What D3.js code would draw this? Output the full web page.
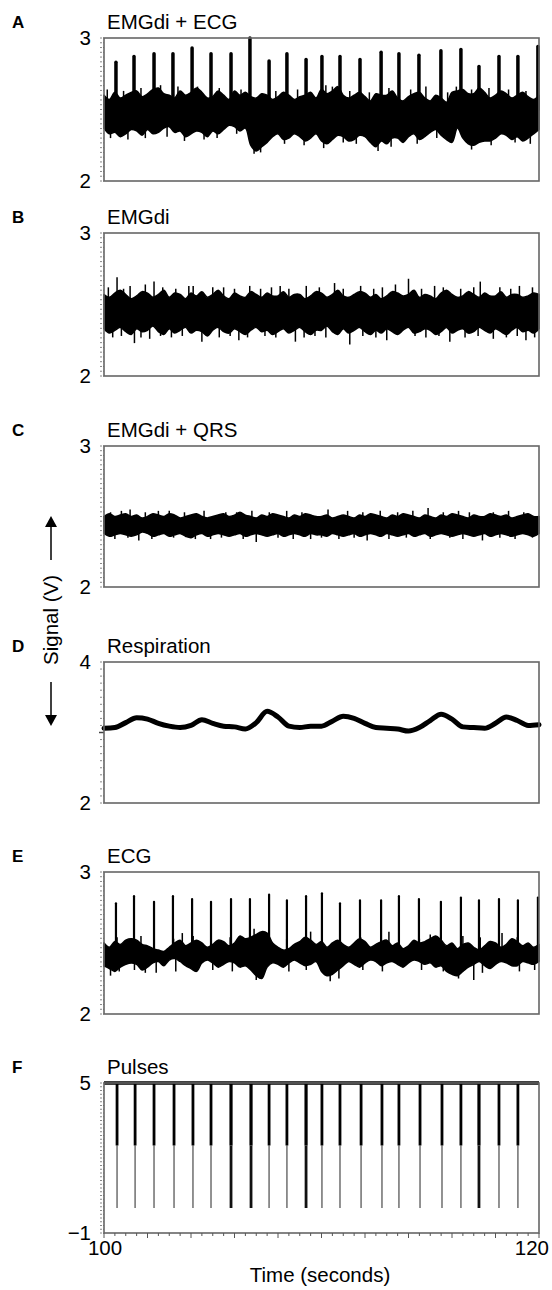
<!DOCTYPE html>
<html>
<head>
<meta charset="utf-8">
<script src="https://cdn.jsdelivr.net/npm/d3@7"></script>
<style>
  body { margin: 0; background: #fff; }
  svg { display: block; font-family: "Liberation Sans", Arial, sans-serif; }
</style>
</head>
<body>
<div id="chart"></div>
<script>
// sample grid for the band envelopes (seconds, every 0.25 s)
const bandTimes = [100,100.25,100.5,100.75,101,101.25,101.5,101.75,102,102.25,102.5,102.75,103,103.25,103.5,103.75,
  104,104.25,104.5,104.75,105,105.25,105.5,105.75,106,106.25,106.5,106.75,107,107.25,107.5,107.75,
  108,108.25,108.5,108.75,109,109.25,109.5,109.75,110,110.25,110.5,110.75,111,111.25,111.5,111.75,
  112,112.25,112.5,112.75,113,113.25,113.5,113.75,114,114.25,114.5,114.75,115,115.25,115.5,115.75,
  116,116.25,116.5,116.75,117,117.25,117.5,117.75,118,118.25,118.5,118.75,119,119.25,119.5,119.75,120];

// grid for respiration (every 0.5 s)
const respTimes = [100,100.5,101,101.5,102,102.5,103,103.5,104,104.5,105,105.5,106,106.5,107,107.5,108,108.5,109,109.5,
  110,110.5,111,111.5,112,112.5,113,113.5,114,114.5,115,115.5,116,116.5,117,117.5,118,118.5,119,119.5,120];

// A: EMGdi + ECG band envelope (V)
const aHigh = [2.60,2.57,2.62,2.58,2.60,2.62,2.63,2.59,2.61,2.64,2.65,2.61,2.60,2.58,2.63,2.60,
  2.62,2.65,2.62,2.58,2.59,2.63,2.60,2.57,2.63,2.60,2.62,2.59,2.58,2.61,2.60,2.57,
  2.59,2.62,2.60,2.57,2.59,2.60,2.62,2.58,2.64,2.61,2.63,2.66,2.60,2.58,2.60,2.62,
  2.59,2.56,2.61,2.60,2.60,2.63,2.58,2.56,2.59,2.61,2.62,2.58,2.56,2.60,2.58,2.55,
  2.62,2.63,2.64,2.61,2.61,2.65,2.62,2.58,2.60,2.63,2.61,2.58,2.60,2.62,2.59,2.57,2.60];
const aLow = [2.37,2.33,2.34,2.31,2.33,2.36,2.35,2.32,2.36,2.33,2.34,2.37,2.38,2.34,2.35,2.31,
  2.33,2.35,2.34,2.31,2.35,2.33,2.36,2.39,2.38,2.35,2.37,2.25,2.21,2.24,2.27,2.31,
  2.33,2.29,2.30,2.33,2.31,2.28,2.30,2.33,2.28,2.26,2.29,2.32,2.31,2.28,2.29,2.32,
  2.31,2.27,2.24,2.28,2.26,2.30,2.30,2.27,2.31,2.33,2.29,2.31,2.34,2.36,2.32,2.29,
  2.27,2.37,2.30,2.26,2.25,2.27,2.28,2.28,2.30,2.33,2.32,2.29,2.31,2.28,2.30,2.33,2.36];
// A: short excursions beyond the band [time, V]
const aHairs = [[100.15,2.64],[100.9,2.63],[101.7,2.65],[102.6,2.67],[103.4,2.66],[104.3,2.66],[105.3,2.65],
  [106.3,2.64],[107.9,2.63],[108.9,2.64],[110.2,2.67],[110.5,2.66],[111.3,2.63],[112.2,2.62],[113.1,2.65],
  [114.1,2.64],[114.8,2.66],[115.8,2.62],[116.2,2.66],[116.9,2.64],[117.7,2.65],[118.6,2.64],[119.4,2.63],
  [100.3,2.30],[101.1,2.29],[101.9,2.30],[102.9,2.31],[103.7,2.28],[104.6,2.29],[105.2,2.30],[106.1,2.33],
  [106.9,2.19],[107.2,2.20],[108.3,2.26],[109.2,2.25],[110.1,2.23],[111.0,2.27],[111.6,2.26],[112.6,2.21],
  [113.2,2.24],[114.4,2.26],[115.3,2.30],[116.9,2.22],[117.8,2.25],[118.9,2.27],[119.6,2.26]];

// R-peak times (seconds), shared by A and E
const rPeakTimes = [100.55,101.38,102.30,103.17,104.05,104.92,105.84,106.71,107.59,108.41,109.29,110.02,
  110.85,111.77,112.74,113.56,114.48,115.49,116.41,117.24,118.16,119.03,119.95];
const aPeaks = [2.83,2.87,2.89,2.89,2.93,2.89,2.89,3.00,2.84,2.89,2.85,2.87,2.87,2.85,2.90,2.89,2.88,2.91,2.92,2.80,2.87,2.87,2.94];

// B: EMGdi
const bHigh = [2.57,2.55,2.58,2.60,2.57,2.54,2.56,2.59,2.58,2.55,
  2.57,2.60,2.55,2.58,2.57,2.54,2.58,2.56,2.59,2.55,
  2.57,2.60,2.56,2.54,2.58,2.56,2.55,2.59,2.57,2.55,
  2.58,2.56,2.56,2.59,2.55,2.57,2.57,2.54,2.56,2.59,
  2.58,2.55,2.57,2.60,2.56,2.55,2.57,2.59,2.58,2.55,
  2.57,2.54,2.56,2.59,2.58,2.56,2.57,2.60,2.55,2.57,
  2.56,2.54,2.58,2.60,2.57,2.55,2.56,2.59,2.57,2.55,
  2.58,2.56,2.56,2.59,2.55,2.57,2.57,2.55,2.56,2.58,2.57];
const bLow = [2.33,2.30,2.32,2.34,2.31,2.29,2.33,2.31,2.32,2.35,
  2.31,2.29,2.33,2.30,2.32,2.34,2.30,2.32,2.31,2.28,
  2.32,2.34,2.31,2.30,2.33,2.31,2.29,2.32,2.34,2.31,
  2.32,2.29,2.31,2.33,2.30,2.32,2.34,2.31,2.29,2.32,
  2.32,2.35,2.31,2.29,2.33,2.30,2.32,2.34,2.31,2.29,
  2.32,2.30,2.33,2.31,2.29,2.32,2.34,2.30,2.31,2.33,
  2.32,2.29,2.31,2.34,2.30,2.32,2.33,2.30,2.31,2.34,
  2.32,2.30,2.33,2.31,2.29,2.32,2.34,2.31,2.32,2.30,2.33];
const bHairs = [[100.6,2.69],[101.4,2.23],[101.9,2.64],[102.1,2.26],[102.3,2.66],[103.9,2.63],[104.5,2.24],
  [105.0,2.62],[106.2,2.25],[108.1,2.63],[108.8,2.24],[110.6,2.65],[111.3,2.22],[113.0,2.25],[113.4,2.64],
  [114.0,2.68],[115.9,2.24],[117.3,2.66],[117.9,2.26],[118.2,2.62],[119.4,2.25],
  [100.2,2.62],[100.9,2.61],[101.2,2.63],[102.7,2.62],[103.3,2.61],[104.1,2.63],[105.5,2.62],[106.0,2.61],
  [106.7,2.63],[107.2,2.61],[107.7,2.62],[108.5,2.61],[109.3,2.63],[109.9,2.62],[111.0,2.61],[111.8,2.63],
  [112.4,2.61],[112.8,2.62],[114.6,2.61],[115.2,2.63],[115.6,2.62],[116.4,2.61],[117.0,2.62],[118.7,2.61],
  [119.1,2.63],[119.7,2.62],
  [100.4,2.27],[100.8,2.28],[101.7,2.27],[102.6,2.28],[103.1,2.27],[103.6,2.28],[105.3,2.27],[105.8,2.28],
  [106.6,2.27],[107.4,2.28],[107.9,2.27],[109.2,2.27],[109.7,2.28],[110.2,2.27],[111.9,2.28],[112.5,2.27],
  [114.3,2.28],[114.8,2.27],[115.4,2.28],[116.6,2.27],[117.2,2.28],[118.5,2.27],[119.0,2.28],[119.8,2.27]];

// C: EMGdi + QRS
const cHigh = [2.50,2.52,2.50,2.51,2.52,2.50,2.51,2.49,2.50,2.52,
  2.51,2.50,2.52,2.51,2.49,2.50,2.51,2.52,2.50,2.49,
  2.50,2.51,2.52,2.50,2.51,2.53,2.51,2.50,2.49,2.51,
  2.50,2.52,2.51,2.50,2.49,2.51,2.50,2.52,2.51,2.50,
  2.50,2.51,2.49,2.50,2.51,2.50,2.49,2.51,2.50,2.52,
  2.51,2.50,2.49,2.51,2.50,2.52,2.51,2.50,2.49,2.51,
  2.50,2.49,2.51,2.50,2.52,2.51,2.50,2.49,2.51,2.50,
  2.50,2.52,2.51,2.50,2.51,2.49,2.50,2.51,2.52,2.50,2.50];
const cLow = [2.38,2.36,2.37,2.38,2.37,2.36,2.37,2.39,2.38,2.36,
  2.37,2.38,2.36,2.37,2.38,2.36,2.35,2.37,2.38,2.36,
  2.37,2.38,2.37,2.36,2.37,2.38,2.36,2.37,2.38,2.37,
  2.36,2.37,2.38,2.36,2.37,2.38,2.37,2.36,2.38,2.37,
  2.37,2.36,2.38,2.37,2.36,2.37,2.38,2.36,2.37,2.38,
  2.37,2.36,2.38,2.37,2.36,2.37,2.38,2.36,2.37,2.38,
  2.36,2.37,2.38,2.37,2.36,2.37,2.38,2.37,2.36,2.37,
  2.38,2.36,2.37,2.38,2.37,2.36,2.37,2.38,2.37,2.36,2.38];
const cHairs = [[101.2,2.55],[101.6,2.33],[103.0,2.54],[104.2,2.34],[105.6,2.53],[107.0,2.32],[109.5,2.34],
  [110.3,2.55],[112.1,2.33],[114.9,2.56],[116.8,2.53],[117.4,2.33],
  [100.3,2.53],[100.8,2.54],[101.9,2.53],[102.5,2.54],[103.7,2.53],[104.6,2.54],[106.1,2.53],[106.8,2.54],
  [107.6,2.53],[108.4,2.54],[109.1,2.53],[111.2,2.54],[111.9,2.53],[112.7,2.54],[113.5,2.53],[114.2,2.54],
  [115.6,2.53],[116.3,2.54],[117.9,2.53],[118.6,2.54],[119.3,2.53],
  [100.5,2.34],[101.1,2.35],[102.2,2.34],[103.2,2.35],[104.9,2.34],[105.4,2.35],[106.4,2.34],[108.0,2.35],
  [108.7,2.34],[110.0,2.35],[110.8,2.34],[111.5,2.35],[113.1,2.34],[113.9,2.35],[115.0,2.34],[115.9,2.35],
  [116.5,2.34],[118.2,2.35],[118.9,2.34],[119.7,2.35]];

// D: Respiration
const respiration = [3.06,3.07,3.14,3.21,3.19,3.13,3.09,3.07,3.10,3.18,3.13,3.09,3.08,3.05,3.14,3.30,3.22,3.09,3.07,3.09,
  3.09,3.16,3.23,3.20,3.13,3.07,3.06,3.05,3.02,3.07,3.17,3.26,3.19,3.08,3.07,3.06,3.13,3.22,3.17,3.10,3.11];

// E: ECG
const eHigh = [2.50,2.47,2.51,2.49,2.52,2.53,2.52,2.49,2.48,2.46,2.45,2.44,2.47,2.50,2.52,2.48,
  2.50,2.52,2.50,2.47,2.49,2.52,2.51,2.48,2.50,2.55,2.53,2.54,2.56,2.58,2.57,2.50,
  2.47,2.45,2.46,2.49,2.51,2.54,2.52,2.49,2.51,2.47,2.50,2.52,2.49,2.47,2.50,2.53,
  2.51,2.47,2.49,2.51,2.52,2.48,2.50,2.46,2.48,2.52,2.50,2.51,2.53,2.55,2.52,2.48,
  2.50,2.46,2.49,2.50,2.47,2.45,2.48,2.51,2.50,2.47,2.49,2.53,2.51,2.48,2.50,2.47,2.49];
const eLow = [2.34,2.32,2.30,2.33,2.35,2.36,2.35,2.31,2.33,2.36,2.37,2.34,2.38,2.39,2.37,2.34,
  2.32,2.30,2.36,2.38,2.36,2.33,2.35,2.37,2.36,2.33,2.34,2.31,2.27,2.25,2.33,2.36,
  2.35,2.33,2.36,2.38,2.36,2.34,2.35,2.37,2.30,2.27,2.28,2.31,2.34,2.37,2.35,2.33,
  2.36,2.38,2.37,2.34,2.36,2.37,2.35,2.33,2.36,2.38,2.37,2.35,2.36,2.33,2.34,2.30,
  2.28,2.27,2.30,2.33,2.35,2.37,2.34,2.32,2.35,2.37,2.36,2.34,2.34,2.37,2.36,2.35,2.37];
const ePeaks = [2.78,2.83,2.79,2.83,2.81,2.79,2.81,2.81,2.84,2.80,2.83,2.85,2.78,2.80,2.80,2.83,2.81,2.79,2.82,2.80,2.81,2.80,2.82];
const eHairs = [[100.3,2.27],[101.7,2.55],[101.9,2.29],[103.3,2.30],[103.6,2.57],[106.9,2.60],[107.0,2.24],
  [109.5,2.58],[110.4,2.23],[110.8,2.25],[113.1,2.58],[115.0,2.56],[116.3,2.25],[117.0,2.24],[118.3,2.57],
  [100.7,2.30],[101.4,2.31],[102.4,2.29],[104.2,2.30],[105.0,2.31],[105.9,2.30],[108.5,2.30],[109.3,2.31],
  [111.9,2.31],[112.8,2.30],[114.6,2.31],[115.6,2.30],[117.4,2.29],[119.1,2.30],[119.8,2.31],
  [100.6,2.54],[102.3,2.54],[103.2,2.53],[104.1,2.55],[105.8,2.54],[108.4,2.53],[111.8,2.54],[114.5,2.53],
  [116.5,2.55],[117.3,2.54],[119.0,2.54]];

// F: Pulses
const pulseTimes = [100.60,101.43,102.30,103.22,104.09,104.92,105.84,106.76,107.59,108.41,109.29,110.02,
  110.85,111.82,112.78,113.56,114.53,115.54,116.41,117.24,118.16,119.03];
const pulseDark = [0,0,0,0,0,0,1,1,0,0,1,0,0,0,0,0,0,0,0,1,0,0];
const pulseHigh = 5, pulseMid = 2.5, pulseLow = 0;

// time axis
const timeLabels = [100, 120];
const timeTicks = [100,100.5,101,101.5,102,102.5,103,103.5,104,104.5,105,105.5,106,106.5,107,107.5,108,108.5,109,109.5,
  110,110.5,111,111.5,112,112.5,113,113.5,114,114.5,115,115.5,116,116.5,117,117.5,118,118.5,119,119.5,120];

const W = 552, H = 1290;
const svg = d3.select('#chart').append('svg')
    .attr('width', W)
    .attr('height', H);

const x = d3.scaleLinear().domain([100, 120]).range([104, 539]);

const panels = [
  {letter: 'A', title: 'EMGdi + ECG', top: 38, bottom: 181, domain: [2, 3], labels: [2, 3], minor: 30},
  {letter: 'B', title: 'EMGdi', top: 233, bottom: 376, domain: [2, 3], labels: [2, 3], minor: 30},
  {letter: 'C', title: 'EMGdi + QRS', top: 446, bottom: 587, domain: [2, 3], labels: [2, 3], minor: 30},
  {letter: 'D', title: 'Respiration', top: 662, bottom: 803, domain: [2, 4], labels: [2, 4], minor: 20},
  {letter: 'E', title: 'ECG', top: 872, bottom: 1014, domain: [2, 3], labels: [2, 3], minor: 30},
  {letter: 'F', title: 'Pulses', top: 1083, bottom: 1233, domain: [-1, 5], labels: [-1, 5], minor: 40}
];

const fmt = v => v < 0 ? '\u2212' + Math.abs(v) : String(v);

panels.forEach(p => {
  p.y = d3.scaleLinear().domain(p.domain).range([p.bottom, p.top]);
  p.g = svg.append('g');
  const g = p.g;

  // minor ticks on the left
  const step = (p.domain[1] - p.domain[0]) / p.minor;
  const mt = d3.range(p.minor + 1).map(i => p.domain[0] + i * step);
  g.selectAll('.mt')
    .data(mt)
    .join('line')
      .attr('x1', 100).attr('x2', 104)
      .attr('y1', d => p.y(d)).attr('y2', d => p.y(d))
      .attr('stroke', '#888')
      .attr('stroke-width', 1)
      .attr('stroke-dasharray', '2,1');

  g.selectAll('.lab')
    .data(p.labels)
    .join('text')
      .attr('x', 91)
      .attr('y', d => p.y(d) + 7)
      .attr('text-anchor', 'end')
      .attr('font-size', 20.5)
      .text(fmt);

  g.append('text')
    .attr('x', 107)
    .attr('y', p.top - 9)
    .attr('font-size', 20.5)
    .text(p.title);

  g.append('text')
    .attr('x', 12)
    .attr('y', p.top - 10)
    .attr('font-size', 17)
    .attr('font-weight', 'bold')
    .text(p.letter);
});

function band(p, hi, lo, hairs) {
  const rows = bandTimes.map((t, i) => ({t, hi: hi[i], lo: lo[i]}));
  const area = d3.area()
    .x(d => x(d.t))
    .y0(d => p.y(d.lo))
    .y1(d => p.y(d.hi))
    .curve(d3.curveCatmullRom.alpha(0.5));
  p.g.append('path')
    .datum(rows)
    .attr('d', area)
    .attr('fill', '#000')
    .attr('stroke', '#000')
    .attr('stroke-width', 1.5)
    .attr('stroke-linejoin', 'round');
  const mid = (d3.mean(hi) + d3.mean(lo)) / 2;
  p.g.selectAll('.hair')
    .data(hairs)
    .join('line')
      .attr('x1', d => x(d[0])).attr('x2', d => x(d[0]))
      .attr('y1', p.y(mid)).attr('y2', d => p.y(d[1]))
      .attr('stroke', '#000')
      .attr('stroke-width', 1.5);
}

function rPeaks(p, peaks, width, base) {
  p.g.selectAll('.rp')
    .data(rPeakTimes.map((t, i) => ({t, v: peaks[i]})))
    .join('line')
      .attr('x1', d => x(d.t)).attr('x2', d => x(d.t))
      .attr('y1', p.y(base)).attr('y2', d => p.y(d.v))
      .attr('stroke', '#000')
      .attr('stroke-width', width)
      .attr('stroke-linecap', 'round');
}

// A
band(panels[0], aHigh, aLow, aHairs);
rPeaks(panels[0], aPeaks, 3.5, 2.5);
// B
band(panels[1], bHigh, bLow, bHairs);
// C
band(panels[2], cHigh, cLow, cHairs);
// D
const pD = panels[3];
pD.g.append('path')
  .datum(respTimes.map((t, i) => ({t, v: respiration[i]})))
  .attr('d', d3.line().x(d => x(d.t)).y(d => pD.y(d.v)).curve(d3.curveMonotoneX))
  .attr('fill', 'none')
  .attr('stroke', '#000')
  .attr('stroke-width', 5)
  .attr('stroke-linecap', 'round');
pD.g.append('line')
  .attr('x1', 99).attr('x2', 104)
  .attr('y1', pD.y(3)).attr('y2', pD.y(3))
  .attr('stroke', '#444').attr('stroke-width', 1.5);
// E
band(panels[4], eHigh, eLow, eHairs);
rPeaks(panels[4], ePeaks, 2.2, 2.45);
// F
const pF = panels[5];
pF.g.append('line')
  .attr('x1', x(100)).attr('x2', x(120))
  .attr('y1', pF.y(pulseHigh)).attr('y2', pF.y(pulseHigh))
  .attr('stroke', '#000').attr('stroke-width', 3.5);
const pulses = pulseTimes.map((t, i) => ({t, dark: pulseDark[i]}));
pF.g.selectAll('.plo')
  .data(pulses)
  .join('line')
    .attr('x1', d => x(d.t)).attr('x2', d => x(d.t))
    .attr('y1', pF.y(pulseMid)).attr('y2', pF.y(pulseLow))
    .attr('stroke', d => d.dark ? '#111' : '#777')
    .attr('stroke-width', d => d.dark ? 2.8 : 1.6);
pF.g.selectAll('.phi')
  .data(pulses)
  .join('line')
    .attr('x1', d => x(d.t)).attr('x2', d => x(d.t))
    .attr('y1', pF.y(pulseHigh)).attr('y2', pF.y(pulseMid))
    .attr('stroke', '#000')
    .attr('stroke-width', d => d.dark ? 3.2 : 2.8);

// boxes on top
panels.forEach(p => {
  p.g.append('rect')
    .attr('x', x(100)).attr('y', p.top)
    .attr('width', x(120) - x(100)).attr('height', p.bottom - p.top)
    .attr('fill', 'none')
    .attr('stroke', '#666')
    .attr('stroke-width', 1.6);
});

// time axis under F
svg.append('g').selectAll('line')
  .data(timeTicks)
  .join('line')
    .attr('x1', d => x(d)).attr('x2', d => x(d))
    .attr('y1', pF.bottom)
    .attr('y2', d => pF.bottom + ((d - 100) % 2 === 0 ? 5 : 3))
    .attr('stroke', '#555')
    .attr('stroke-width', 1);

svg.append('text')
  .attr('x', x(timeLabels[0]) + 1)
  .attr('y', 1255)
  .attr('text-anchor', 'middle')
  .attr('font-size', 20.5)
  .text(timeLabels[0]);
svg.append('text')
  .attr('x', 549)
  .attr('y', 1255)
  .attr('text-anchor', 'end')
  .attr('font-size', 20.5)
  .text(timeLabels[1]);
svg.append('text')
  .attr('x', 320)
  .attr('y', 1282)
  .attr('text-anchor', 'middle')
  .attr('font-size', 20.5)
  .text('Time (seconds)');

// shared y label with arrows
svg.append('text')
  .attr('transform', 'translate(58,620) rotate(-90)')
  .attr('text-anchor', 'middle')
  .attr('font-size', 20.5)
  .text('Signal (V)');

const arrows = svg.append('g');
arrows.append('line').attr('x1', 51).attr('x2', 51).attr('y1', 560).attr('y2', 525)
  .attr('stroke', '#000').attr('stroke-width', 1.5);
arrows.append('path').attr('d', 'M45,527 L51,516 L57,527 Z').attr('fill', '#000');
arrows.append('line').attr('x1', 51).attr('x2', 51).attr('y1', 682).attr('y2', 717)
  .attr('stroke', '#000').attr('stroke-width', 1.5);
arrows.append('path').attr('d', 'M45,715 L51,726 L57,715 Z').attr('fill', '#000');
</script>
</body>
</html>
